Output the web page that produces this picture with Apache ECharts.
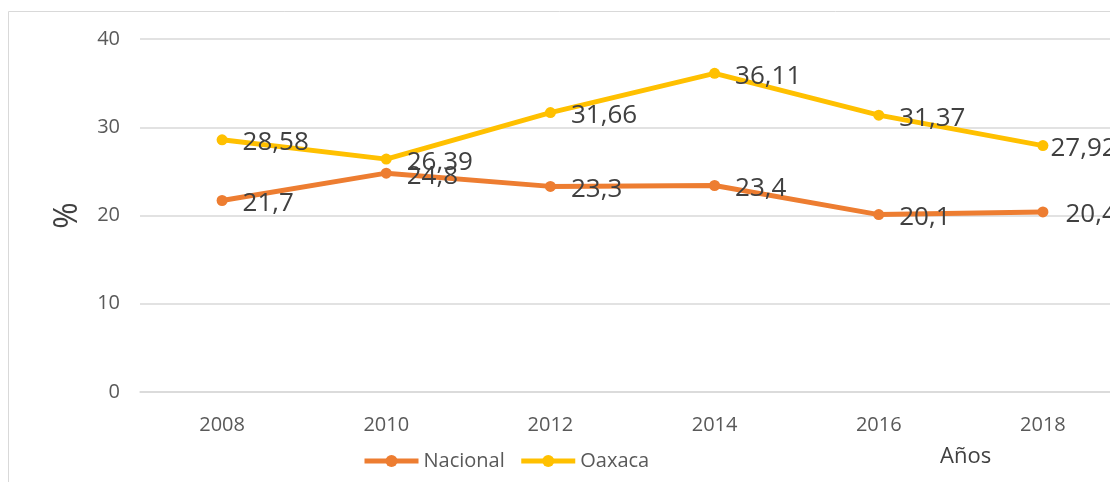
<!DOCTYPE html>
<html>
<head>
<meta charset="utf-8">
<script src="https://cdn.jsdelivr.net/npm/echarts@6/dist/echarts.min.js"></script>
<style>
  html, body { margin: 0; padding: 0; background: #fff; }
  #chart { width: 1110px; height: 482px; }
</style>
</head>
<body>
<div id="chart"></div>
<script>
// datos
var years = ['2008', '2010', '2012', '2014', '2016', '2018'];
var nacional = [21.7, 24.8, 23.3, 23.4, 20.1, 20.4];
var oaxaca = [28.58, 26.39, 31.66, 36.11, 31.37, 27.92];

var font = 'Open Sans';

function coma(p) {
  return String(p.value).replace('.', ',');
}

var chart = echarts.init(document.getElementById('chart'));

var option = {
  animation: false,
  textStyle: { fontFamily: font },
  grid: { left: 140, width: 985, top: 39, bottom: 90, outerBoundsMode: 'none', containLabel: false },
  legend: {
    left: 357,
    top: 446,
    itemWidth: 54,
    itemHeight: 15,
    itemGap: 14,
    lineStyle: { width: 5 },
    textStyle: { fontSize: 20, color: '#595959', fontFamily: font },
    data: ['Nacional', 'Oaxaca']
  },
  graphic: [
    {
      type: 'rect',
      shape: { x: 8.5, y: 11.5, width: 1300, height: 700 },
      style: { fill: 'none', stroke: '#d9d9d9', lineWidth: 1 },
      silent: true
    },
    {
      type: 'text',
      left: 940,
      top: 446,
      style: { text: 'Años', fontSize: 22, fill: '#404040', fontFamily: font }
    }
  ],
  xAxis: {
    type: 'category',
    data: years,
    axisLine: { lineStyle: { color: '#d9d9d9', width: 1.5 } },
    axisTick: { show: false },
    axisLabel: { fontSize: 20, color: '#595959', margin: 23 }
  },
  yAxis: {
    type: 'value',
    min: 0,
    max: 40,
    interval: 10,
    name: '%',
    nameLocation: 'middle',
    nameGap: 56,
    nameRotate: 90,
    nameTextStyle: { fontSize: 32, color: '#404040' },
    axisLine: { show: false },
    axisTick: { show: false },
    axisLabel: { fontSize: 20, color: '#595959', margin: 20 },
    splitLine: { lineStyle: { color: '#d9d9d9', width: 1.5 } }
  },
  series: [
    {
      name: 'Nacional',
      type: 'line',
      data: nacional.map(function (v, i) {
        if (i === nacional.length - 1) return { value: v, label: { distance: 17 } };
        return v;
      }),
      symbol: 'circle',
      symbolSize: 11,
      color: '#ED7D31',
      lineStyle: { width: 5, color: '#ED7D31' },
      label: {
        show: true,
        position: 'right',
        distance: 15,
        offset: [0, 3],
        formatter: coma,
        fontSize: 26,
        color: '#404040'
      },
      z: 2
    },
    {
      name: 'Oaxaca',
      type: 'line',
      data: oaxaca.map(function (v, i) {
        if (i === oaxaca.length - 1) return { value: v, label: { distance: 2 } };
        return v;
      }),
      symbol: 'circle',
      symbolSize: 11,
      color: '#FFC000',
      lineStyle: { width: 5, color: '#FFC000' },
      label: {
        show: true,
        position: 'right',
        distance: 15,
        offset: [0, 3],
        formatter: coma,
        fontSize: 26,
        color: '#404040'
      },
      z: 3
    }
  ]
};

chart.setOption(option);
window.addEventListener('resize', function () {
  chart.resize();
});
</script>
</body>
</html>
